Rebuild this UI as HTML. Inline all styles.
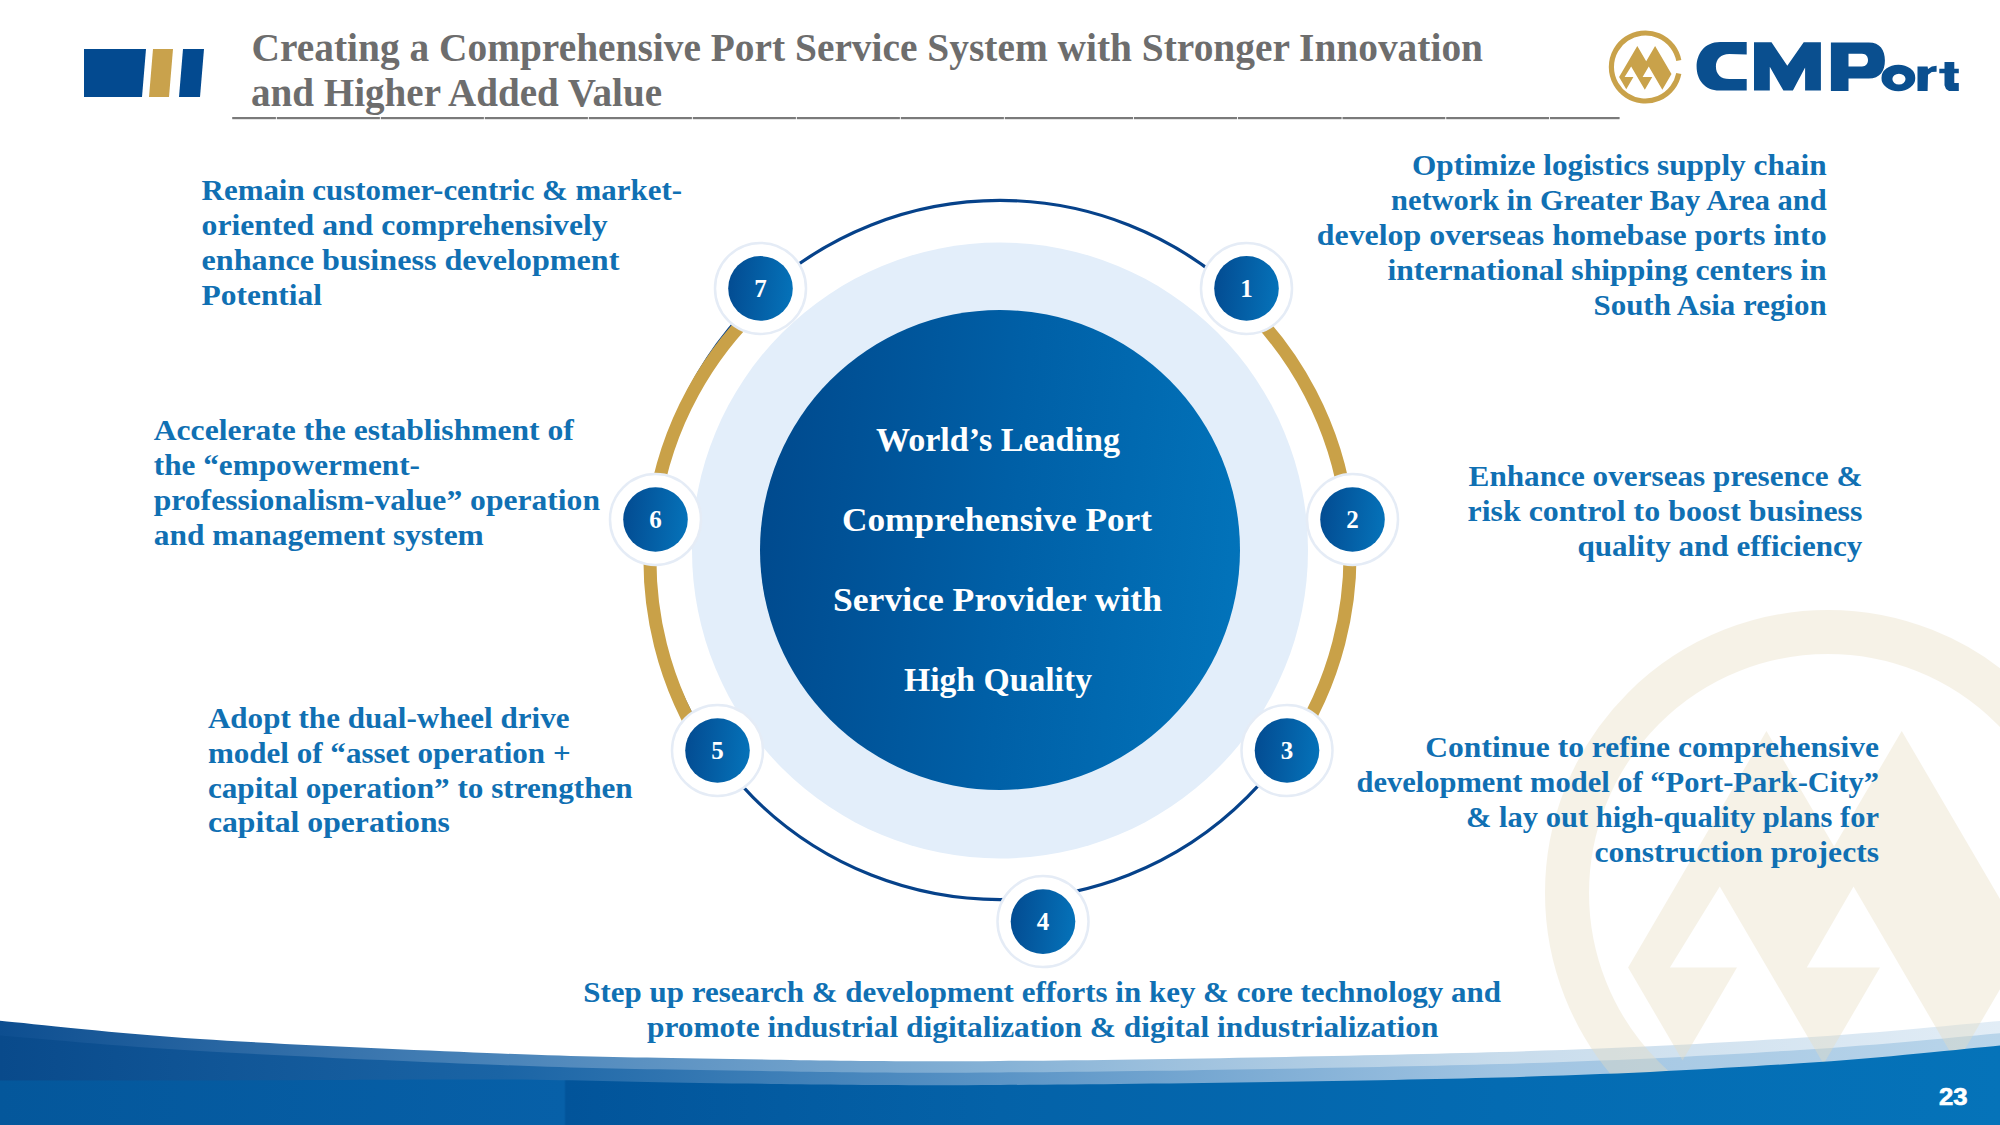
<!DOCTYPE html>
<html><head><meta charset="utf-8"><style>
html,body{margin:0;padding:0;background:#fff;}
body{width:2000px;height:1125px;overflow:hidden;position:relative;font-family:"Liberation Serif",serif;}
svg{position:absolute;left:0;top:0;}
</style></head><body>
<svg width="2000" height="1125" viewBox="0 0 2000 1125">
<defs>
<linearGradient id="gbig" x1="0" y1="0.45" x2="1" y2="0.55"><stop offset="0" stop-color="#004a8e"/><stop offset="0.5" stop-color="#005fa6"/><stop offset="1" stop-color="#0273ba"/></linearGradient>
<linearGradient id="gsm" x1="0" y1="0.45" x2="1" y2="0.55"><stop offset="0" stop-color="#034c92"/><stop offset="1" stop-color="#0572b9"/></linearGradient>
<linearGradient id="gb1" x1="0" y1="0" x2="2000" y2="0" gradientUnits="userSpaceOnUse"><stop offset="0" stop-color="#0d4e90"/><stop offset="0.25" stop-color="#4a84b9"/><stop offset="0.5" stop-color="#86b2d6"/><stop offset="0.75" stop-color="#c8dcec"/><stop offset="1" stop-color="#e2edf6"/></linearGradient>
<linearGradient id="gb2" x1="0" y1="0" x2="2000" y2="0" gradientUnits="userSpaceOnUse"><stop offset="0" stop-color="#094a8b"/><stop offset="0.25" stop-color="#1a64a5"/><stop offset="0.5" stop-color="#5a94c6"/><stop offset="0.75" stop-color="#a0c4e2"/><stop offset="1" stop-color="#b9d5ea"/></linearGradient>
<linearGradient id="gb3" x1="0" y1="0" x2="2000" y2="0" gradientUnits="userSpaceOnUse"><stop offset="0" stop-color="#04579b"/><stop offset="0.282" stop-color="#0760a8"/><stop offset="0.283" stop-color="#02549a"/><stop offset="0.5" stop-color="#0462a8"/><stop offset="0.75" stop-color="#046bb2"/><stop offset="1" stop-color="#0573b9"/></linearGradient>
</defs>
<!-- header blocks -->
<polygon points="84,49 146,49 142,97 84,97" fill="#034a90"/>
<polygon points="153,49 173,49 169,97 149,97" fill="#c9a24c"/>
<polygon points="183,49 204,49 200,97 179,97" fill="#034a90"/>
<rect x="232.2" y="117" width="43.7" height="2.2" fill="#7a7a7a"/><rect x="276.8" y="117" width="103.1" height="2.2" fill="#7a7a7a"/><rect x="380.8" y="117" width="103.1" height="2.2" fill="#7a7a7a"/><rect x="484.8" y="117" width="103.1" height="2.2" fill="#7a7a7a"/><rect x="588.8" y="117" width="103.1" height="2.2" fill="#7a7a7a"/><rect x="692.8" y="117" width="103.1" height="2.2" fill="#7a7a7a"/><rect x="796.8" y="117" width="103.1" height="2.2" fill="#7a7a7a"/><rect x="900.8" y="117" width="103.1" height="2.2" fill="#7a7a7a"/><rect x="1004.8" y="117" width="128.3" height="2.2" fill="#7a7a7a"/><rect x="1134.0" y="117" width="103.1" height="2.2" fill="#7a7a7a"/><rect x="1238.0" y="117" width="103.6" height="2.2" fill="#7a7a7a"/><rect x="1342.5" y="117" width="102.8" height="2.2" fill="#7a7a7a"/><rect x="1446.2" y="117" width="102.9" height="2.2" fill="#7a7a7a"/><rect x="1550.0" y="117" width="69.6" height="2.2" fill="#7a7a7a"/>
<!-- logo -->
<g transform="translate(1645.4,67)" fill="#c9a24a" stroke="#c9a24a"><path d="M33.39,-6.40 A34,34 0 1 0 33.39,6.40" fill="none" stroke-width="5.2"/><path d="M-26.3,10.07 L-8.1,-21.05 L0.8,-5.85 L9.7,-21.05 L26.1,7.0 L16.94,22.65 L3.36,-0.58 L-2.79,10.07 L6.84,10.07 L-0.58,22.76 L-14.24,-0.58 L-20.8,10.07 L-11.98,10.07 L-19.14,22.31Z" stroke="none"/></g>
<g fill="#0a4f8f"><path d="M1746.7,42.0 L1720.1,42.0 C1704.0,42.0 1696.6,54.6 1696.6,66.5 C1696.6,79.8 1704.7,90.6 1719.4,90.6 L1746.7,90.6 L1746.7,79.1 L1729.2,79.1 C1720.8,79.1 1715.9,74.2 1715.9,66.5 C1715.9,58.8 1720.8,53.9 1729.2,53.9 L1746.7,54.6Z"/><path d="M1754.0,42.3 L1771.5,42.3 L1787.3,65.8 L1803.7,42.3 L1820.9,42.3 L1820.9,90.6 L1805.1,90.6 L1805.1,67.5 L1792.9,90.6 L1783.4,90.6 L1769.8,66.8 L1769.8,90.6 L1754.0,90.6Z"/><path d="M1830.9,42.5 L1868.8,42.5 C1880.0,42.5 1884.9,50.0 1884.9,60.5 C1884.9,71.0 1880.0,78.5 1868.8,78.5 L1848.5,78.5 L1848.5,90.9 L1830.9,90.9Z M1848.5,53.8 L1862.0,53.8 C1866.1,53.8 1868.0,56.8 1868.0,60.1 C1868.0,63.5 1866.1,66.5 1862.0,66.5 L1848.5,66.5Z" fill-rule="evenodd"/><path d="M1881.5,77.9 a16.88,12.94 0 1 0 33.75,0 a16.88,12.94 0 1 0 -33.75,0Z M1892.4,79.1 a6.56,5.44 0 1 1 13.13,0 a6.56,5.44 0 1 1 -13.13,0Z" fill-rule="evenodd"/><path d="M1917.5,66.5 L1927.6,66.5 L1928.0,69.1 L1931.8,66.5 L1936.6,65.8 L1936.6,71.8 L1931.8,72.1 L1928.0,74.8 L1927.6,90.9 L1917.5,90.9Z"/><path d="M1944.5,62.0 L1954.3,62.0 L1954.3,68.8 L1958.8,68.8 L1958.8,73.3 L1954.3,73.3 L1954.3,83.0 L1958.8,83.0 L1958.8,90.9 L1949.0,90.9 L1946.0,89.0 L1944.5,85.3 L1944.5,73.3 L1939.3,73.3 L1939.3,68.8 L1944.5,68.8Z"/></g>
<!-- band -->
<path d="M0,1020.7 C33.3,1023.8 116.7,1033.5 200.0,1039.0 C283.3,1044.5 416.7,1050.2 500.0,1053.5 C583.3,1056.8 616.7,1057.2 700.0,1058.5 C783.3,1059.8 866.7,1062.1 1000.0,1061.0 C1133.3,1059.9 1366.7,1055.9 1500.0,1052.0 C1633.3,1048.1 1716.7,1043.0 1800.0,1037.8 C1883.3,1032.6 1966.7,1023.8 2000.0,1021.0 L2000,1125 L0,1125Z" fill="url(#gb1)"/>
<path d="M0,1035.5 C33.3,1038.1 116.7,1046.1 200.0,1051.0 C283.3,1055.9 416.7,1061.8 500.0,1065.0 C583.3,1068.2 616.7,1068.8 700.0,1070.0 C783.3,1071.2 866.7,1073.5 1000.0,1072.5 C1133.3,1071.5 1366.7,1067.8 1500.0,1064.0 C1633.3,1060.2 1716.7,1055.1 1800.0,1050.0 C1883.3,1044.9 1966.7,1036.1 2000.0,1033.3 L2000,1125 L0,1125Z" fill="url(#gb2)"/>
<!-- watermark -->
<g opacity="0.37"><circle cx="1828" cy="893" r="261" fill="none" stroke="#e8ddc0" stroke-width="44"/><path transform="translate(1828,891) scale(7.6)" d="M-26.3,10.07 L-8.1,-21.05 L0.8,-5.85 L9.7,-21.05 L26.1,7.0 L16.94,22.65 L3.36,-0.58 L-2.79,10.07 L6.84,10.07 L-0.58,22.76 L-14.24,-0.58 L-20.8,10.07 L-11.98,10.07 L-19.14,22.31Z" fill="#e8ddc0"/></g>
<path d="M0,1080.5 C33.3,1080.5 116.7,1080.7 200.0,1080.5 C283.3,1080.3 416.7,1079.1 500.0,1079.5 C583.3,1079.9 616.7,1082.1 700.0,1083.0 C783.3,1083.9 866.7,1085.9 1000.0,1085.0 C1133.3,1084.1 1366.7,1081.1 1500.0,1077.5 C1633.3,1073.9 1716.7,1068.6 1800.0,1063.3 C1883.3,1058.0 1966.7,1048.5 2000.0,1045.5 L2000,1125 L0,1125Z" fill="url(#gb3)"/>
<!-- diagram -->
<circle cx="1000" cy="550.5" r="308" fill="#e3eefa"/>
<circle cx="1000" cy="550" r="240" fill="url(#gbig)"/>
<circle cx="1000" cy="550" r="349.6" fill="none" stroke="#06428a" stroke-width="3.2"/>
<path d="M768.5,297.5 A350,350 0 0 0 709.8,755.7" fill="none" stroke="#c9a148" stroke-width="13"/>
<path d="M1237.6,298.0 A350,350 0 0 1 1289.3,752.0" fill="none" stroke="#c9a148" stroke-width="13"/>
<circle cx="760.5" cy="288.4" r="45.5" fill="#ffffff" stroke="#e5ecf6" stroke-width="2.5"/><circle cx="760.5" cy="288.4" r="32.3" fill="url(#gsm)"/><text x="760.5" y="297.0" font-size="25" fill="#fff" text-anchor="middle" font-family="Liberation Serif" font-weight="bold">7</text><circle cx="1246.5" cy="288.4" r="45.5" fill="#ffffff" stroke="#e5ecf6" stroke-width="2.5"/><circle cx="1246.5" cy="288.4" r="32.3" fill="url(#gsm)"/><text x="1246.5" y="297.0" font-size="25" fill="#fff" text-anchor="middle" font-family="Liberation Serif" font-weight="bold">1</text><circle cx="655.5" cy="519.5" r="45.5" fill="#ffffff" stroke="#e5ecf6" stroke-width="2.5"/><circle cx="655.5" cy="519.5" r="32.3" fill="url(#gsm)"/><text x="655.5" y="528.1" font-size="25" fill="#fff" text-anchor="middle" font-family="Liberation Serif" font-weight="bold">6</text><circle cx="1352.5" cy="519.5" r="45.5" fill="#ffffff" stroke="#e5ecf6" stroke-width="2.5"/><circle cx="1352.5" cy="519.5" r="32.3" fill="url(#gsm)"/><text x="1352.5" y="528.1" font-size="25" fill="#fff" text-anchor="middle" font-family="Liberation Serif" font-weight="bold">2</text><circle cx="717.5" cy="750.5" r="45.5" fill="#ffffff" stroke="#e5ecf6" stroke-width="2.5"/><circle cx="717.5" cy="750.5" r="32.3" fill="url(#gsm)"/><text x="717.5" y="759.1" font-size="25" fill="#fff" text-anchor="middle" font-family="Liberation Serif" font-weight="bold">5</text><circle cx="1287" cy="750.5" r="45.5" fill="#ffffff" stroke="#e5ecf6" stroke-width="2.5"/><circle cx="1287" cy="750.5" r="32.3" fill="url(#gsm)"/><text x="1287" y="759.1" font-size="25" fill="#fff" text-anchor="middle" font-family="Liberation Serif" font-weight="bold">3</text><circle cx="1043" cy="921.6" r="45.5" fill="#ffffff" stroke="#e5ecf6" stroke-width="2.5"/><circle cx="1043" cy="921.6" r="32.3" fill="url(#gsm)"/><text x="1043" y="930.2" font-size="25" fill="#fff" text-anchor="middle" font-family="Liberation Serif" font-weight="bold">4</text>
<text x="251.5" y="60.5" font-size="39" fill="#6d6d6d" text-anchor="start" textLength="1231.5" lengthAdjust="spacingAndGlyphs" font-family="Liberation Serif" font-weight="bold">Creating a Comprehensive Port Service System with Stronger Innovation</text><text x="251.0" y="105.8" font-size="39" fill="#6d6d6d" text-anchor="start" textLength="411.0" lengthAdjust="spacingAndGlyphs" font-family="Liberation Serif" font-weight="bold">and Higher Added Value</text><text x="201.6" y="199.8" font-size="29.4" fill="#1070b3" text-anchor="start" textLength="480.4" lengthAdjust="spacingAndGlyphs" font-family="Liberation Serif" font-weight="bold">Remain customer-centric &amp; market-</text><text x="201.6" y="234.8" font-size="29.4" fill="#1070b3" text-anchor="start" textLength="406.0" lengthAdjust="spacingAndGlyphs" font-family="Liberation Serif" font-weight="bold">oriented and comprehensively</text><text x="201.6" y="269.8" font-size="29.4" fill="#1070b3" text-anchor="start" textLength="417.8" lengthAdjust="spacingAndGlyphs" font-family="Liberation Serif" font-weight="bold">enhance business development</text><text x="201.6" y="304.8" font-size="29.4" fill="#1070b3" text-anchor="start" textLength="120.4" lengthAdjust="spacingAndGlyphs" font-family="Liberation Serif" font-weight="bold">Potential</text><text x="1826.6" y="175.3" font-size="29.4" fill="#1070b3" text-anchor="end" textLength="414.6" lengthAdjust="spacingAndGlyphs" font-family="Liberation Serif" font-weight="bold">Optimize logistics supply chain</text><text x="1826.6" y="210.3" font-size="29.4" fill="#1070b3" text-anchor="end" textLength="435.6" lengthAdjust="spacingAndGlyphs" font-family="Liberation Serif" font-weight="bold">network in Greater Bay Area and</text><text x="1826.6" y="245.3" font-size="29.4" fill="#1070b3" text-anchor="end" textLength="509.8" lengthAdjust="spacingAndGlyphs" font-family="Liberation Serif" font-weight="bold">develop overseas homebase ports into</text><text x="1826.6" y="280.3" font-size="29.4" fill="#1070b3" text-anchor="end" textLength="439.2" lengthAdjust="spacingAndGlyphs" font-family="Liberation Serif" font-weight="bold">international shipping centers in</text><text x="1826.6" y="315.3" font-size="29.4" fill="#1070b3" text-anchor="end" textLength="233.1" lengthAdjust="spacingAndGlyphs" font-family="Liberation Serif" font-weight="bold">South Asia region</text><text x="153.8" y="439.5" font-size="29.4" fill="#1070b3" text-anchor="start" textLength="420.0" lengthAdjust="spacingAndGlyphs" font-family="Liberation Serif" font-weight="bold">Accelerate the establishment of</text><text x="153.8" y="474.5" font-size="29.4" fill="#1070b3" text-anchor="start" textLength="266.2" lengthAdjust="spacingAndGlyphs" font-family="Liberation Serif" font-weight="bold">the “empowerment-</text><text x="153.8" y="509.5" font-size="29.4" fill="#1070b3" text-anchor="start" textLength="446.2" lengthAdjust="spacingAndGlyphs" font-family="Liberation Serif" font-weight="bold">professionalism-value” operation</text><text x="153.8" y="544.5" font-size="29.4" fill="#1070b3" text-anchor="start" textLength="330.0" lengthAdjust="spacingAndGlyphs" font-family="Liberation Serif" font-weight="bold">and management system</text><text x="1862.4" y="485.6" font-size="29.4" fill="#1070b3" text-anchor="end" textLength="393.8" lengthAdjust="spacingAndGlyphs" font-family="Liberation Serif" font-weight="bold">Enhance overseas presence &amp;</text><text x="1862.4" y="520.6" font-size="29.4" fill="#1070b3" text-anchor="end" textLength="394.9" lengthAdjust="spacingAndGlyphs" font-family="Liberation Serif" font-weight="bold">risk control to boost business</text><text x="1862.4" y="555.6" font-size="29.4" fill="#1070b3" text-anchor="end" textLength="284.9" lengthAdjust="spacingAndGlyphs" font-family="Liberation Serif" font-weight="bold">quality and efficiency</text><text x="207.9" y="727.5" font-size="29.4" fill="#1070b3" text-anchor="start" textLength="361.6" lengthAdjust="spacingAndGlyphs" font-family="Liberation Serif" font-weight="bold">Adopt the dual-wheel drive</text><text x="207.9" y="762.5" font-size="29.4" fill="#1070b3" text-anchor="start" textLength="362.7" lengthAdjust="spacingAndGlyphs" font-family="Liberation Serif" font-weight="bold">model of “asset operation +</text><text x="207.9" y="797.5" font-size="29.4" fill="#1070b3" text-anchor="start" textLength="424.8" lengthAdjust="spacingAndGlyphs" font-family="Liberation Serif" font-weight="bold">capital operation” to strengthen</text><text x="207.9" y="832.4" font-size="29.4" fill="#1070b3" text-anchor="start" textLength="242.0" lengthAdjust="spacingAndGlyphs" font-family="Liberation Serif" font-weight="bold">capital operations</text><text x="1879.0" y="756.5" font-size="29.4" fill="#1070b3" text-anchor="end" textLength="453.7" lengthAdjust="spacingAndGlyphs" font-family="Liberation Serif" font-weight="bold">Continue to refine comprehensive</text><text x="1879.0" y="791.5" font-size="29.4" fill="#1070b3" text-anchor="end" textLength="522.5" lengthAdjust="spacingAndGlyphs" font-family="Liberation Serif" font-weight="bold">development model of “Port-Park-City”</text><text x="1879.0" y="826.5" font-size="29.4" fill="#1070b3" text-anchor="end" textLength="413.0" lengthAdjust="spacingAndGlyphs" font-family="Liberation Serif" font-weight="bold">&amp; lay out high-quality plans for</text><text x="1879.0" y="861.5" font-size="29.4" fill="#1070b3" text-anchor="end" textLength="284.6" lengthAdjust="spacingAndGlyphs" font-family="Liberation Serif" font-weight="bold">construction projects</text><text x="583.3" y="1002.4" font-size="29.4" fill="#1070b3" text-anchor="start" textLength="917.7" lengthAdjust="spacingAndGlyphs" font-family="Liberation Serif" font-weight="bold">Step up research &amp; development efforts in key &amp; core technology and</text><text x="647.0" y="1037.4" font-size="29.4" fill="#1070b3" text-anchor="start" textLength="791.4" lengthAdjust="spacingAndGlyphs" font-family="Liberation Serif" font-weight="bold">promote industrial digitalization &amp; digital industrialization</text><text x="876.0" y="450.9" font-size="33.2" fill="#ffffff" text-anchor="start" textLength="244.0" lengthAdjust="spacingAndGlyphs" font-family="Liberation Serif" font-weight="bold">World’s Leading</text><text x="842.0" y="530.8" font-size="33.2" fill="#ffffff" text-anchor="start" textLength="310.0" lengthAdjust="spacingAndGlyphs" font-family="Liberation Serif" font-weight="bold">Comprehensive Port</text><text x="833.0" y="610.7" font-size="33.2" fill="#ffffff" text-anchor="start" textLength="329.0" lengthAdjust="spacingAndGlyphs" font-family="Liberation Serif" font-weight="bold">Service Provider with</text><text x="904.0" y="690.6" font-size="33.2" fill="#ffffff" text-anchor="start" textLength="188.0" lengthAdjust="spacingAndGlyphs" font-family="Liberation Serif" font-weight="bold">High Quality</text><text x="1939.0" y="1105.0" font-size="24" fill="#ffffff" text-anchor="start" textLength="28.5" lengthAdjust="spacingAndGlyphs" font-family="Liberation Sans" font-weight="bold" stroke="#ffffff" stroke-width="0.7">23</text>
</svg>
</body></html>
